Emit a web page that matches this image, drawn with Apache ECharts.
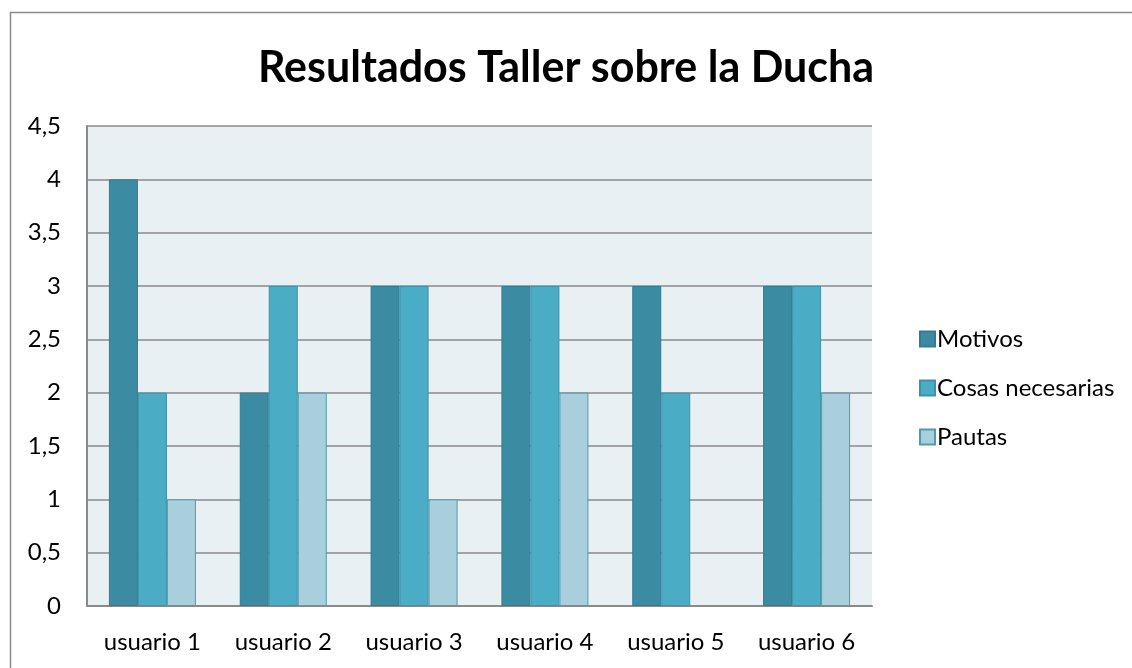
<!DOCTYPE html>
<html>
<head>
<meta charset="utf-8">
<script src="https://cdn.jsdelivr.net/npm/echarts@6/dist/echarts.min.js"></script>
<style>
  html, body { margin: 0; padding: 0; background: #fff; }
  #chart { width: 1132px; height: 668px; }
</style>
</head>
<body>
<div id="chart"></div>
<script>
var categories = ["usuario 1", "usuario 2", "usuario 3", "usuario 4", "usuario 5", "usuario 6"];
var motivos = [4, 2, 3, 3, 3, 3];
var cosasNecesarias = [2, 3, 3, 3, 2, 3];
var pautas = [1, 2, 1, 2, 0, 2];

var font = "Lato, 'Open Sans', sans-serif";

var chart = echarts.init(document.getElementById("chart"));

function barSeries(name, data, color, border) {
  return {
    name: name,
    type: "bar",
    // a zero bar is not drawn at all, not even its border
    data: data.map(function (v) {
      return v === 0 ? { value: 0, itemStyle: { borderWidth: 0 } } : v;
    }),
    barWidth: 29,
    barGap: "0%",
    itemStyle: { color: color, borderColor: border, borderWidth: 1 }
  };
}

chart.setOption({
  animation: false,
  graphic: [{
    type: "rect",
    shape: { x: 10.5, y: 12.5, width: 1130, height: 670 },
    style: { fill: "none", stroke: "#8a8a8a", lineWidth: 1.5 },
    z: -1
  }],
  title: {
    text: "Resultados Taller sobre la Ducha",
    left: "center",
    top: 42,
    textStyle: { fontFamily: font, fontSize: 43, fontWeight: "bold", color: "#000" }
  },
  legend: {
    orient: "vertical",
    left: 914,
    top: 322,
    itemWidth: 15,
    itemHeight: 15,
    itemGap: 25,
    icon: "rect",
    textStyle: { fontFamily: font, fontSize: 24, lineHeight: 24, color: "#000", padding: [0, 0, 0, -3] },
    data: ["Motivos", "Cosas necesarias", "Pautas"]
  },
  grid: { left: 87, top: 126, width: 785, height: 480, backgroundColor: "#e8f0f4", show: true, borderWidth: 0 },
  xAxis: {
    type: "category",
    data: categories,
    axisLine: { lineStyle: { color: "#8a8a8a", width: 2 } },
    axisTick: { show: false },
    axisLabel: { fontFamily: font, fontSize: 24, color: "#000", margin: 24 }
  },
  yAxis: {
    type: "value",
    min: 0,
    max: 4.5,
    interval: 0.5,
    axisLine: { show: true, lineStyle: { color: "#8a8a8a", width: 2 } },
    axisTick: { show: false },
    splitLine: { lineStyle: { color: "#8a8a8a", width: 1.5 } },
    axisLabel: {
      fontFamily: font, fontSize: 24, color: "#000", margin: 26,
      formatter: function (v) { return String(v).replace(".", ","); }
    }
  },
  series: [
    barSeries("Motivos", motivos, "#3b8ca3", "#2f7d92"),
    barSeries("Cosas necesarias", cosasNecesarias, "#4bacc6", "#3a93ab"),
    barSeries("Pautas", pautas, "#a9cfdc", "#4f9bb0")
  ]
});
</script>
</body>
</html>
